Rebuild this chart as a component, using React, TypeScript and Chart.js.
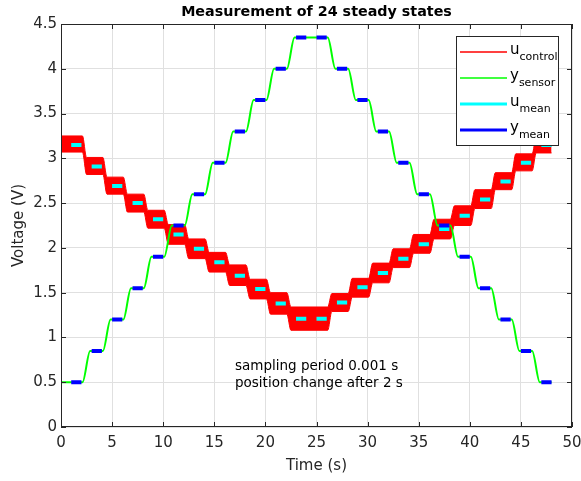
import React, { useEffect, useRef } from "react";
import { Chart, registerables } from "chart.js";

Chart.register(...registerables);

// ---- data ----
const stateDuration = 2; // seconds per steady state
const sensorLevels = [
  0.5, 0.85, 1.2, 1.55, 1.9, 2.25, 2.6, 2.95, 3.3, 3.65, 4.0, 4.35,
  4.35, 4.0, 3.65, 3.3, 2.95, 2.6, 2.25, 1.9, 1.55, 1.2, 0.85, 0.5,
];
const uLevels = [
  3.15, 2.91, 2.69, 2.5, 2.32, 2.15, 1.99, 1.84, 1.69, 1.54, 1.38, 1.21,
  1.21, 1.39, 1.56, 1.72, 1.88, 2.04, 2.21, 2.36, 2.54, 2.74, 2.95, 3.15,
];
// spread of the noisy control signal around its mean (V)
const uSpreadUp = [
  0.1, 0.1, 0.1, 0.1, 0.1, 0.11, 0.11, 0.11, 0.12, 0.11, 0.12, 0.13,
  0.13, 0.1, 0.1, 0.11, 0.11, 0.11, 0.11, 0.11, 0.11, 0.1, 0.1, 0.09,
];
const uSpreadDown = [
  0.08, 0.09, 0.09, 0.1, 0.1, 0.11, 0.11, 0.11, 0.11, 0.11, 0.12, 0.13,
  0.13, 0.1, 0.11, 0.11, 0.1, 0.1, 0.11, 0.11, 0.1, 0.09, 0.09, 0.09,
];
// transition timing within a state (s after the state start)
const sensorRise = [0.1, 0.85];
const controlRise = [0.1, 0.5];
const meanWindow = [1, 2];

const xTickValues = [0, 5, 10, 15, 20, 25, 30, 35, 40, 45, 50];
const yTickValues = [0, 0.5, 1, 1.5, 2, 2.5, 3, 3.5, 4, 4.5];
const legendItems = [
  { main: "u", sub: "control", color: "#ff0000", width: 1.5 },
  { main: "y", sub: "sensor", color: "#00ff00", width: 1.5 },
  { main: "u", sub: "mean", color: "#00ffff", width: 3 },
  { main: "y", sub: "mean", color: "#0000ff", width: 3 },
];
const titleText = "Measurement of 24 steady states";
const xLabel = "Time (s)";
const yLabel = "Voltage (V)";
const noteLines = ["sampling period 0.001 s", "position change after 2 s"];

// ---- build series ----
type P = { x: number; y: number | null };
function stepSeries(levels: number[], offs: number[], rise: number[]): P[] {
  const pts: P[] = [{ x: 0, y: levels[0] + offs[0] }];
  for (let i = 1; i < levels.length; i++) {
    const prev = levels[i - 1] + offs[i - 1];
    const cur = levels[i] + offs[i];
    if (prev === cur) continue;
    const t0 = i * stateDuration;
    pts.push({ x: t0 + rise[0], y: prev });
    pts.push({ x: t0 + rise[1], y: cur });
  }
  const n = levels.length;
  pts.push({ x: n * stateDuration, y: levels[n - 1] + offs[n - 1] });
  return pts;
}
function meanSeries(levels: number[]): P[] {
  const pts: P[] = [];
  levels.forEach((v, i) => {
    const t0 = i * stateDuration;
    pts.push({ x: t0 + meanWindow[0], y: v });
    pts.push({ x: t0 + meanWindow[1], y: v });
    pts.push({ x: t0 + meanWindow[1] + 0.001, y: null });
  });
  return pts;
}
const zeros = sensorLevels.map(() => 0);
const sensorData = stepSeries(sensorLevels, zeros, sensorRise);
const uUpperData = stepSeries(uLevels, uSpreadUp, controlRise);
const uLowerData = stepSeries(
  uLevels,
  uSpreadDown.map((d) => -d),
  controlRise
);
const uMeanData = meanSeries(uLevels);
const yMeanData = meanSeries(sensorLevels);

const TXT = "#262626";
const FONT = "'DejaVu Sans', sans-serif";

const decorPlugin = {
  id: "decor",
  afterDraw(chart: any) {
    const { ctx, chartArea: a, scales } = chart;
    const xs = scales.x;
    const ys = scales.y;
    ctx.save();
    // box
    ctx.strokeStyle = TXT;
    ctx.lineWidth = 1;
    ctx.strokeRect(a.left + 0.5, a.top + 0.5, a.right - a.left - 1, a.bottom - a.top - 1);
    // inward ticks
    const tl = 5;
    ctx.beginPath();
    xTickValues.forEach((v) => {
      const px = Math.round(xs.getPixelForValue(v)) + 0.5;
      ctx.moveTo(px, a.bottom);
      ctx.lineTo(px, a.bottom - tl);
      ctx.moveTo(px, a.top);
      ctx.lineTo(px, a.top + tl);
    });
    yTickValues.forEach((v) => {
      const py = Math.round(ys.getPixelForValue(v)) + 0.5;
      ctx.moveTo(a.left, py);
      ctx.lineTo(a.left + tl, py);
      ctx.moveTo(a.right, py);
      ctx.lineTo(a.right - tl, py);
    });
    ctx.stroke();

    // title
    ctx.fillStyle = "#000";
    ctx.font = `bold 14.3px ${FONT}`;
    ctx.textAlign = "center";
    ctx.textBaseline = "alphabetic";
    ctx.fillText(titleText, (a.left + a.right) / 2, 16);

    // axis labels
    ctx.fillStyle = TXT;
    ctx.font = `15px ${FONT}`;
    ctx.textBaseline = "middle";
    ctx.fillText(xLabel, (a.left + a.right) / 2, 466);
    ctx.save();
    ctx.translate(19, (a.top + a.bottom) / 2);
    ctx.rotate(-Math.PI / 2);
    ctx.fillText(yLabel, 0, 0);
    ctx.restore();

    // note
    ctx.fillStyle = "#000";
    ctx.font = `13.5px ${FONT}`;
    ctx.textAlign = "left";
    ctx.textBaseline = "alphabetic";
    ctx.fillText(noteLines[0], 235, 370);
    ctx.fillText(noteLines[1], 235, 387);

    // legend
    const lx = 456, ly = 36, lw = 102, lh = 109;
    ctx.fillStyle = "#fff";
    ctx.fillRect(lx, ly, lw, lh);
    ctx.strokeStyle = TXT;
    ctx.lineWidth = 1;
    ctx.strokeRect(lx + 0.5, ly + 0.5, lw, lh);
    legendItems.forEach((it, i) => {
      const y = 52 + i * 26;
      ctx.strokeStyle = it.color;
      ctx.lineWidth = it.width;
      ctx.beginPath();
      ctx.moveTo(460, y);
      ctx.lineTo(507, y);
      ctx.stroke();
      ctx.fillStyle = "#000";
      ctx.font = `15px ${FONT}`;
      ctx.fillText(it.main, 510, y + 2);
      const w = ctx.measureText(it.main).width;
      ctx.font = `11px ${FONT}`;
      ctx.fillText(it.sub, 510 + w, y + 8);
    });
    ctx.restore();
  },
};

export default function App() {
  const ref = useRef<HTMLCanvasElement | null>(null);
  useEffect(() => {
    if (!ref.current) return;
    const chart = new Chart(ref.current, {
      type: "line",
      data: {
        datasets: [
          {
            label: "u_control_upper",
            data: uUpperData as any,
            borderColor: "#ff0000",
            backgroundColor: "#ff0000",
            borderWidth: 1,
            pointRadius: 0,
            fill: "+1",
            cubicInterpolationMode: "monotone",
            order: 5,
          },
          {
            label: "u_control_lower",
            data: uLowerData as any,
            borderColor: "#ff0000",
            borderWidth: 1,
            pointRadius: 0,
            fill: false,
            cubicInterpolationMode: "monotone",
            order: 4,
          },
          {
            label: "y_sensor",
            data: sensorData as any,
            borderColor: "#00ff00",
            borderWidth: 2,
            pointRadius: 0,
            fill: false,
            cubicInterpolationMode: "monotone",
            order: 3,
          },
          {
            label: "u_mean",
            data: uMeanData as any,
            borderColor: "#00ffff",
            borderWidth: 4,
            borderCapStyle: "butt",
            pointRadius: 0,
            fill: false,
            spanGaps: false,
            order: 2,
          },
          {
            label: "y_mean",
            data: yMeanData as any,
            borderColor: "#0000ff",
            borderWidth: 4,
            borderCapStyle: "butt",
            pointRadius: 0,
            fill: false,
            spanGaps: false,
            order: 1,
          },
        ],
      },
      options: {
        responsive: false,
        animation: false,
        events: [],
        layout: { padding: { top: 24, right: 9, left: 0, bottom: 0 } },
        plugins: {
          legend: { display: false },
          title: { display: false },
          tooltip: { enabled: false },
        },
        scales: {
          x: {
            type: "linear",
            min: 0,
            max: 50,
            afterBuildTicks: (s: any) => {
              s.ticks = xTickValues.map((v) => ({ value: v }));
            },
            afterFit: (s: any) => {
              s.height = 54;
              s.paddingLeft = 0;
              s.paddingRight = 0;
              s.paddingTop = 0;
              s.paddingBottom = 0;
            },
            ticks: {
              color: TXT,
              font: { family: FONT, size: 15 },
              padding: 7,
              maxRotation: 0,
              autoSkip: false,
              callback: (v: any) => String(v),
            },
            grid: { color: "#e0e0e0", drawTicks: false },
            border: { display: false },
          },
          y: {
            type: "linear",
            min: 0,
            max: 4.5,
            afterBuildTicks: (s: any) => {
              s.ticks = yTickValues.map((v) => ({ value: v }));
            },
            afterFit: (s: any) => {
              s.width = 61;
              s.paddingLeft = 0;
              s.paddingRight = 0;
              s.paddingTop = 0;
              s.paddingBottom = 0;
            },
            ticks: {
              color: TXT,
              font: { family: FONT, size: 15 },
              padding: 4,
              autoSkip: false,
              callback: (v: any) => String(v),
            },
            grid: { color: "#e0e0e0", drawTicks: false },
            border: { display: false },
          },
        },
      } as any,
      plugins: [decorPlugin],
    });
    return () => chart.destroy();
  }, []);
  return (
    <div style={{ position: "absolute", left: 0, top: 0, width: 581, height: 481, background: "#fff" }}>
      <canvas ref={ref} width={581} height={481} style={{ display: "block" }} />
    </div>
  );
}
